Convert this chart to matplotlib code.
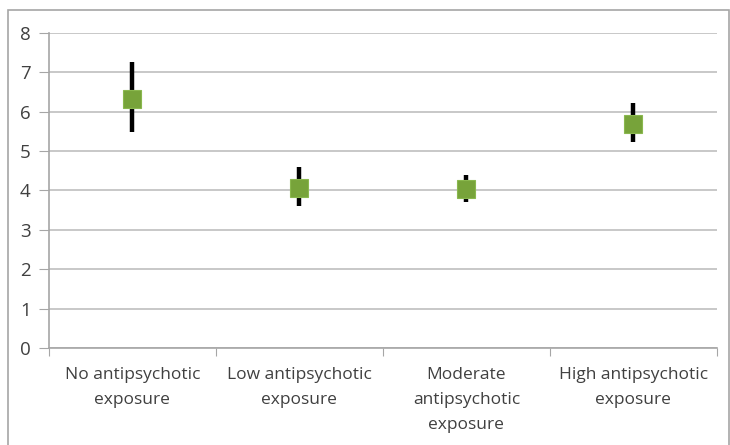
import numpy as np
import matplotlib
matplotlib.use("Agg")
import matplotlib.pyplot as plt
from matplotlib.patches import Rectangle

# values
categories = ["No antipsychotic\nexposure", "Low antipsychotic\nexposure",
              "Moderate\nantipsychotic\nexposure", "High antipsychotic\nexposure"]
means = [6.32, 4.07, 4.03, 5.69]
upper = [7.25, 4.59, 4.40, 6.21]
lower = [5.48, 3.60, 3.70, 5.23]

plt.rcParams["font.family"] = ["Open Sans", "DejaVu Sans"]

fig = plt.figure(figsize=(7.3, 4.45), dpi=100)
ax = fig.add_axes([0.067, 0.218, 0.915, 0.708])

x = np.arange(len(categories))
m = np.array(means)
yerr = [m - np.array(lower), np.array(upper) - m]
ax.errorbar(x, m, yerr=yerr, fmt="none", ecolor="black", elinewidth=3.2, capsize=0, zorder=3)
ax.plot(x, m, linestyle="none", marker="s", markersize=12.5, color="#77a33a",
        markeredgecolor="#8ab84e", markeredgewidth=0.8, zorder=4)

ax.set_xlim(-0.5, len(categories) - 0.5)
ax.set_ylim(0, 8)
ax.set_yticks(range(0, 9))
ax.yaxis.grid(True, color="#bfbfbf", linewidth=1.2)
ax.set_axisbelow(True)

ax.set_xticks(np.arange(len(categories) + 1) - 0.5, minor=False)
ax.set_xticklabels([])
ax.set_xticks(x, minor=True)
ax.set_xticklabels(categories, minor=True, fontsize=12.5, color="#404040", linespacing=1.75)
ax.tick_params(axis="x", which="major", length=6, color="#a6a6a6", direction="out")
ax.tick_params(axis="x", which="minor", length=0, pad=14)
ax.tick_params(axis="y", length=7, color="#a6a6a6", labelsize=13.5, labelcolor="#404040", pad=6)

for side in ["top", "right"]:
    ax.spines[side].set_visible(False)
for side in ["left", "bottom"]:
    ax.spines[side].set_color("#a6a6a6")
    ax.spines[side].set_linewidth(1.2)

# outer chart frame
fig.add_artist(Rectangle((8 / 730, -0.1), 0.987, 1.1 - 10 / 445, transform=fig.transFigure,
                         fill=False, edgecolor="#a6a6a6", linewidth=1.2))

fig.savefig("out.png", dpi=100)
